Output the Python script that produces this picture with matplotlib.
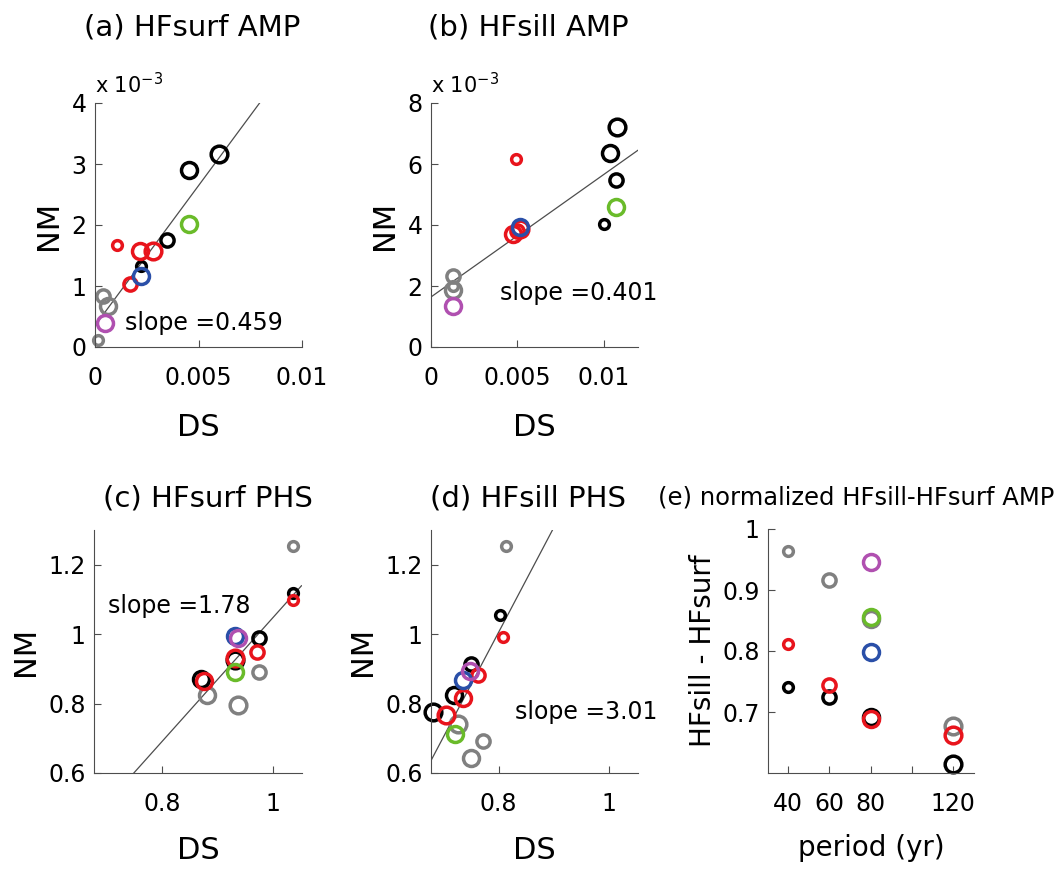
import matplotlib.pyplot as plt
import numpy as np

# colours used in every panel
colors = {'gray': '#808080', 'black': '#000000', 'red': '#e8141c',
          'blue': '#2a4fa8', 'magenta': '#b050b0', 'green': '#6abb2a'}
msize = {40: 7, 60: 9.5, 80: 11.5, 120: 12}

# (a) HFsurf AMP
a_x = [0.00016, 0.00037, 0.00065,
       0.00221, 0.00347, 0.00455, 0.00597,
       0.00105, 0.00169, 0.00215, 0.00279,
       0.00221, 0.00048, 0.00455]
a_y = [0.12e-3, 0.83e-3, 0.667e-3,
       1.33e-3, 1.75e-3, 2.90e-3, 3.16e-3,
       1.667e-3, 1.04e-3, 1.574e-3, 1.574e-3,
       1.158e-3, 0.393e-3, 2.01e-3]
a_c = ['gray'] * 3 + ['black'] * 4 + ['red'] * 4 + ['blue', 'magenta', 'green']
a_p = [40, 60, 80, 40, 60, 80, 120, 40, 60, 80, 120, 80, 80, 80]

# (b) HFsill AMP
b_x = [0.00127, 0.00127, 0.00127,
       0.0100, 0.01073, 0.01039, 0.01081,
       0.00492, 0.00500, 0.00475, 0.00514,
       0.00514, 0.00127, 0.01073]
b_y = [2.0e-3, 2.32e-3, 1.86e-3,
       4.02e-3, 5.46e-3, 6.36e-3, 7.21e-3,
       6.15e-3, 3.80e-3, 3.72e-3, 3.88e-3,
       3.93e-3, 1.33e-3, 4.59e-3]
b_c = a_c
b_p = [40, 60, 80, 40, 60, 80, 120, 40, 60, 80, 120, 80, 80, 80]

# (c) HFsurf PHS
c_x = [1.037, 0.976, 0.882, 0.937,
       1.037, 0.976, 0.870, 0.931,
       1.037, 0.971, 0.876, 0.931,
       0.931, 0.937, 0.931]
c_y = [1.253, 0.890, 0.825, 0.796,
       1.119, 0.990, 0.870, 0.925,
       1.098, 0.949, 0.866, 0.930,
       0.994, 0.988, 0.892]
c_c = ['gray'] * 4 + ['black'] * 4 + ['red'] * 4 + ['blue', 'magenta', 'green']
c_p = [40, 60, 80, 120] * 3 + [80, 80, 80]

# (d) HFsill PHS
d_x = [0.8127, 0.772, 0.749, 0.726,
       0.802, 0.750, 0.718, 0.681,
       0.807, 0.763, 0.735, 0.705,
       0.735, 0.747, 0.721]
d_y = [1.253, 0.691, 0.643, 0.741,
       1.055, 0.914, 0.825, 0.777,
       0.992, 0.882, 0.815, 0.767,
       0.868, 0.895, 0.713]
d_c = c_c
d_p = c_p

# (e) normalized HFsill-HFsurf AMP vs period
e_x = [40, 60, 80, 120,
       40, 60, 80, 120,
       40, 60, 80, 120,
       80, 80, 80]
e_y = [0.964, 0.917, 0.852, 0.677,
       0.741, 0.725, 0.691, 0.615,
       0.8115, 0.744, 0.688, 0.662,
       0.798, 0.946, 0.855]
e_c = c_c
e_p = e_x

# fit lines: slope, intercept, x-range
fits = {
    'a': (0.459, 0.35e-3, 0.0, 0.00795),
    'b': (0.401, 1.64e-3, 0.0, 0.0121),
    'c': (1.78, 0.6 - 1.78 * 0.749, 0.749, 1.052),
    'd': (3.01, 1.006 - 3.01 * 0.8, 0.676, 0.8997),
}

TICK = 17
LAB = 22
TTL = 21
SLP = 17

fig = plt.figure(figsize=(10.62, 8.69), dpi=100)
W, H = 1062, 869


def add_ax(l, t, r, b):
    return fig.add_axes([l / W, 1 - b / H, (r - l) / W, (b - t) / H])


def style(ax):
    for s in ['top', 'right']:
        ax.spines[s].set_visible(False)
    for s in ['left', 'bottom']:
        ax.spines[s].set_color('0.3')
    ax.tick_params(direction='in', length=5, color='0.3', labelsize=TICK)
    ax.tick_params(axis='x', pad=14)
    ax.tick_params(axis='y', pad=6)


def scatter(ax, xs, ys, cs, ps):
    for x, y, c, p in zip(xs, ys, cs, ps):
        ax.plot(x, y, 'o', mfc='none', mec=colors[c], ms=msize[p], mew=2.5,
                clip_on=False)


def fitline(ax, key):
    k, b0, x0, x1 = fits[key]
    xx = np.array([x0, x1])
    ax.plot(xx, k * xx + b0, '-', color='0.3', lw=0.9, zorder=1)


ax_a = add_ax(95, 103, 302, 347)
ax_b = add_ax(431, 103, 638, 347)
ax_c = add_ax(94, 530, 302, 773)
ax_d = add_ax(431, 530, 638, 773)
ax_e = add_ax(768, 529, 974, 773)

# (a)
style(ax_a)
fitline(ax_a, 'a')
scatter(ax_a, a_x, a_y, a_c, a_p)
ax_a.set_xlim(0, 0.01)
ax_a.set_ylim(0, 4e-3)
ax_a.set_xticks([0, 0.005, 0.01])
ax_a.set_xticklabels(['0', '0.005', '0.01'])
ax_a.set_yticks(np.arange(0, 5) * 1e-3)
ax_a.set_yticklabels(['0', '1', '2', '3', '4'])
ax_a.text(0.0, 1.04, r'x 10$^{-3}$', transform=ax_a.transAxes, fontsize=15)
ax_a.text(0.00145, 0.39e-3, 'slope =0.459', fontsize=SLP, va='center')
ax_a.set_xlabel('DS', fontsize=LAB, labelpad=16)
ax_a.set_ylabel('NM', fontsize=LAB, labelpad=6)
ax_a.text(0.47, 1.31, '(a) HFsurf AMP', transform=ax_a.transAxes,
          fontsize=TTL, ha='center', va='center')

# (b)
style(ax_b)
fitline(ax_b, 'b')
scatter(ax_b, b_x, b_y, b_c, b_p)
ax_b.set_xlim(0, 0.012)
ax_b.set_ylim(0, 8e-3)
ax_b.set_xticks([0, 0.005, 0.01])
ax_b.set_xticklabels(['0', '0.005', '0.01'])
ax_b.set_yticks(np.arange(0, 9, 2) * 1e-3)
ax_b.set_yticklabels(['0', '2', '4', '6', '8'])
ax_b.text(0.0, 1.04, r'x 10$^{-3}$', transform=ax_b.transAxes, fontsize=15)
ax_b.text(0.00402, 1.77e-3, 'slope =0.401', fontsize=SLP, va='center')
ax_b.set_xlabel('DS', fontsize=LAB, labelpad=16)
ax_b.set_ylabel('NM', fontsize=LAB, labelpad=6)
ax_b.text(0.47, 1.31, '(b) HFsill AMP', transform=ax_b.transAxes,
          fontsize=TTL, ha='center', va='center')

# (c)
style(ax_c)
fitline(ax_c, 'c')
scatter(ax_c, c_x, c_y, c_c, c_p)
ax_c.set_xlim(0.677, 1.053)
ax_c.set_ylim(0.6, 1.3)
ax_c.set_xticks([0.8, 1.0])
ax_c.set_xticklabels(['0.8', '1'])
ax_c.set_yticks([0.6, 0.8, 1.0, 1.2])
ax_c.set_yticklabels(['0.6', '0.8', '1', '1.2'])
ax_c.text(0.7015, 1.081, 'slope =1.78', fontsize=SLP, va='center')
ax_c.set_xlabel('DS', fontsize=LAB, labelpad=14)
ax_c.set_ylabel('NM', fontsize=LAB, labelpad=6)
ax_c.text(0.55, 1.13, '(c) HFsurf PHS', transform=ax_c.transAxes,
          fontsize=TTL, ha='center', va='center')

# (d)
style(ax_d)
fitline(ax_d, 'd')
scatter(ax_d, d_x, d_y, d_c, d_p)
ax_d.set_xlim(0.677, 1.053)
ax_d.set_ylim(0.6, 1.3)
ax_d.set_xticks([0.8, 1.0])
ax_d.set_xticklabels(['0.8', '1'])
ax_d.set_yticks([0.6, 0.8, 1.0, 1.2])
ax_d.set_yticklabels(['0.6', '0.8', '1', '1.2'])
ax_d.text(0.829, 0.777, 'slope =3.01', fontsize=SLP, va='center')
ax_d.set_xlabel('DS', fontsize=LAB, labelpad=14)
ax_d.set_ylabel('NM', fontsize=LAB, labelpad=6)
ax_d.text(0.47, 1.13, '(d) HFsill PHS', transform=ax_d.transAxes,
          fontsize=TTL, ha='center', va='center')

# (e)
style(ax_e)
scatter(ax_e, e_x, e_y, e_c, e_p)
ax_e.set_xlim(30.4, 130)
ax_e.set_ylim(0.6, 1.0)
ax_e.set_xticks([40, 60, 80, 100, 120])
ax_e.set_xticklabels(['40', '60', '80', '', '120'])
ax_e.set_yticks([0.7, 0.8, 0.9, 1.0])
ax_e.set_yticklabels(['0.7', '0.8', '0.9', '1'])
ax_e.set_xlabel('period (yr)', fontsize=20, labelpad=13)
ax_e.set_ylabel('HFsill - HFsurf', fontsize=20, labelpad=4)
ax_e.text(0.43, 1.13, '(e) normalized HFsill-HFsurf AMP',
          transform=ax_e.transAxes, fontsize=17.5, ha='center', va='center')

fig.savefig('out.png', dpi=100)
